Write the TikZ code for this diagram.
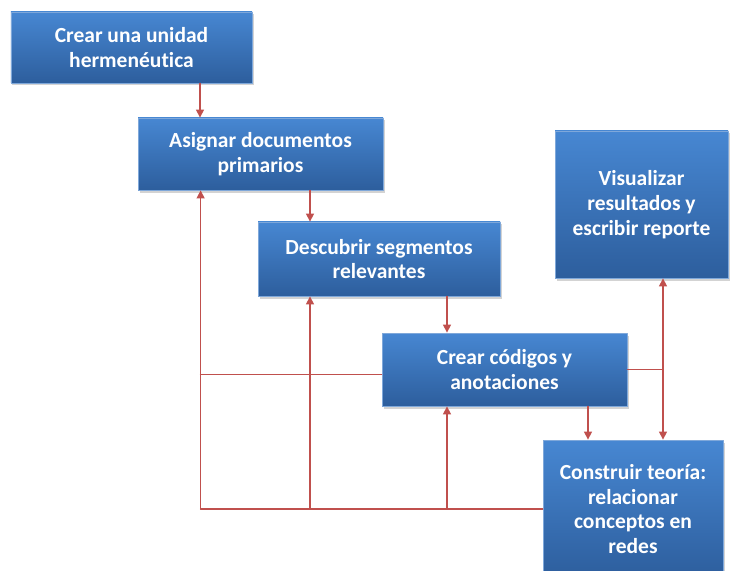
\documentclass[tikz,border=0pt]{standalone}
\usepackage{fontspec}
\setmainfont{Carlito}[Ligatures=NoCommon]
\usepackage{xcolor}
\usepackage{tikz}
\usetikzlibrary{calc,positioning,arrows.meta,shadows}
\definecolor{boxtop}{HTML}{4787D2}
\definecolor{boxbot}{HTML}{2D5E9D}
\definecolor{boxedge}{HTML}{7FA8DA}
\definecolor{linkred}{HTML}{C0504D}
\tikzset{
  StepBox/.style={
    draw=boxedge, line width=0.8bp,
    top color=boxtop, bottom color=boxbot,
    drop shadow={shadow xshift=1.5bp, shadow yshift=-2.5bp, opacity=0.35},
    text=white, align=center,
    font=\fontsize{21.6}{25}\selectfont\bfseries,
    inner sep=0pt
  },
  Link/.style={
    draw=linkred, line width=1.3bp,
    -{Triangle[length=8bp,width=8bp]}
  },
  Wire/.style={
    draw=linkred, line width=1.3bp
  }
}

\begin{document}
\begin{tikzpicture}[x=1bp, y=-1bp, line cap=round, line join=round]
  \useasboundingbox (0,0) rectangle (732,571);

  % steps
  \node[StepBox, minimum width=241bp, minimum height=71bp] (unidad) at (131.5,47.5)
    {Crear una unidad\\hermenéutica};
  \node[StepBox, minimum width=245bp, minimum height=72bp] (asignar) at (260.5,154)
    {Asignar documentos\\primarios};
  \node[StepBox, minimum width=242bp, minimum height=74bp] (descubrir) at (379,259)
    {Descubrir segmentos\\relevantes};
  \node[StepBox, minimum width=245bp, minimum height=73bp] (codigos) at (504.5,369.5)
    {Crear códigos y\\anotaciones};
  \node[StepBox, minimum width=173bp, minimum height=147bp] (visualizar) at (641.5,204.5)
    {Visualizar\\resultados y\\escribir reporte};
  \node[StepBox, minimum width=180bp, minimum height=138bp] (teoria) at (633,509)
    {Construir teoría:\\relacionar\\conceptos en\\redes};

  % forward arrows
  \draw[Link] ([xshift=68.5bp]unidad.south) -- ([xshift=68.5bp]unidad.south |- asignar.north);
  \draw[Link] ([xshift=49.5bp]asignar.south) -- ([xshift=49.5bp]asignar.south |- descubrir.north);
  \draw[Link] ([xshift=68bp]descubrir.south) -- ([xshift=68bp]descubrir.south |- codigos.north);
  \draw[Link] ([xshift=83.5bp]codigos.south) -- ([xshift=83.5bp]codigos.south |- teoria.north);

  % split to visualizar and teoria
  \coordinate (split) at ([xshift=21.5bp]visualizar.south |- codigos.east);
  \draw[Wire] (codigos.east) -- (split);
  \draw[Link] (split) -- (split |- visualizar.south);
  \draw[Link] (split) -- (split |- teoria.north);

  % feedback loops
  \coordinate (back) at ([xshift=63bp]asignar.south west |- teoria.west);
  \coordinate (backB) at ([xshift=-69bp]descubrir.south |- teoria.west);
  \coordinate (backC) at ([xshift=-57.5bp]codigos.south |- teoria.west);
  \coordinate (codIn) at ([yshift=-5bp]codigos.west);
  \draw[Wire] (teoria.west) -- (back);
  \draw[Link] (back) -- (back |- asignar.south);
  \draw[Link] (backB) -- (backB |- descubrir.south);
  \draw[Link] (backC) -- (backC |- codigos.south);
  \draw[Wire] (codIn) -- (back |- codIn);
\end{tikzpicture}
\end{document}
